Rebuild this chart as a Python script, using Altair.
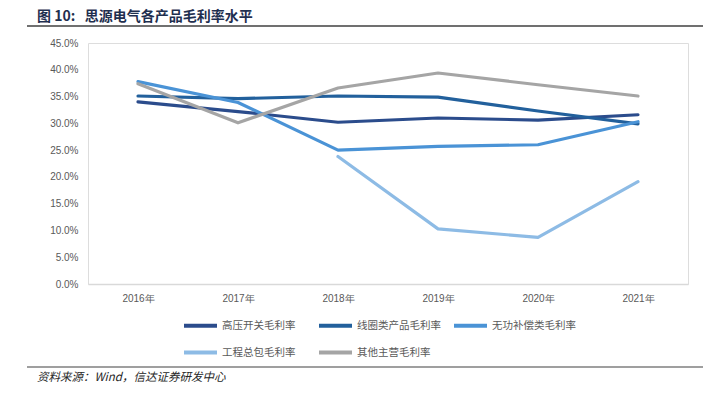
import altair as alt
import pandas as pd

years = ["2016年", "2017年", "2018年", "2019年", "2020年", "2021年"]
series_names = ["高压开关毛利率", "线圈类产品毛利率", "无功补偿类毛利率", "工程总包毛利率", "其他主营毛利率"]
hv_switch = [0.340, 0.322, 0.302, 0.310, 0.306, 0.316]
coil = [0.351, 0.346, 0.351, 0.349, 0.323, 0.299]
reactive = [0.378, 0.339, 0.250, 0.257, 0.260, 0.303]
epc = [None, None, 0.238, 0.103, 0.087, 0.191]
other = [0.374, 0.301, 0.366, 0.394, 0.372, 0.351]
colors = ["#2B4C8C", "#22609C", "#4A93D6", "#8DBBE5", "#A5A5A5"]
y_ticks = [0.0, 0.05, 0.10, 0.15, 0.20, 0.25, 0.30, 0.35, 0.40, 0.45]

title_text = "图 10:\u00a0\u00a0\u00a0思源电气各产品毛利率水平"
source_text = "资料来源：Wind，信达证券研发中心"

rows = []
for name, vals in zip(series_names, [hv_switch, coil, reactive, epc, other]):
    for yr, v in zip(years, vals):
        if v is not None:
            rows.append({"year": yr, "series": name, "value": v})
df = pd.DataFrame(rows)

W, H = 600, 241
PL, PT = 80, 35

lines = alt.Chart(df).mark_line(strokeWidth=3.2, strokeCap="round", strokeJoin="round").encode(
    x=alt.X("year:N", sort=years, scale=alt.Scale(type="point", padding=0.5),
            axis=alt.Axis(title=None, labelAngle=0, domainColor="#D9D9D9", domainWidth=1.5,
                          ticks=False, labelPadding=9, labelFontSize=10,
                          labelFont="Liberation Sans", labelColor="#595959", grid=False)),
    y=alt.Y("value:Q", scale=alt.Scale(domain=[0, 0.45], nice=False),
            axis=alt.Axis(title=None, format=".1%", values=y_ticks, domain=False, ticks=False,
                          grid=False, labelPadding=10, labelFontSize=10,
                          labelFont="Liberation Sans", labelColor="#595959")),
    color=alt.Color("series:N", sort=series_names,
                    scale=alt.Scale(domain=series_names, range=colors),
                    legend=alt.Legend(title=None, orient="none", legendX=94, legendY=264,
                                      direction="horizontal",
                                      columns=3, gridAlign="all", columnPadding=5, rowPadding=-14,
                                      symbolType="stroke", symbolSize=1089, symbolStrokeWidth=4,
                                      labelOffset=3, labelFontSize=10.5,
                                      labelFont="Noto Sans CJK SC", labelColor="#595959")),
)

title_df = pd.DataFrame({"t": [title_text]})
title = alt.Chart(title_df).mark_text(align="left", baseline="middle", fontSize=14, fontWeight="bold",
                                      font="Noto Sans CJK SC", color="#1F2F4F").encode(
    text="t:N", x=alt.value(37 - 88), y=alt.value(17 - 43))

src_df = pd.DataFrame({"t": [source_text]})
source = alt.Chart(src_df).mark_text(align="left", baseline="middle", fontSize=11.5, fontStyle="italic",
                                     font="Noto Sans CJK SC", color="#262626").encode(
    text="t:N", x=alt.value(37 - 88), y=alt.value(378 - 43))

rule_top = alt.Chart(title_df).mark_rule(color="#404040", strokeWidth=1.5).encode(
    x=alt.value(27 - 88), x2=alt.value(719 - 88), y=alt.value(26 - 43))
rule_bot = alt.Chart(src_df).mark_rule(color="#404040", strokeWidth=1.2).encode(
    x=alt.value(27 - 88), x2=alt.value(719 - 88), y=alt.value(367 - 43))

chart = alt.layer(lines, rule_top, rule_bot, title, source).properties(
    width=W, height=H,
    autosize=alt.AutoSizeParams(type="none"),
    padding={"left": PL, "top": PT, "right": 15, "bottom": 100},
).configure_view(stroke=None).configure(background="white")

chart.save("out.html", embed_options={"renderer": "svg", "actions": False})
